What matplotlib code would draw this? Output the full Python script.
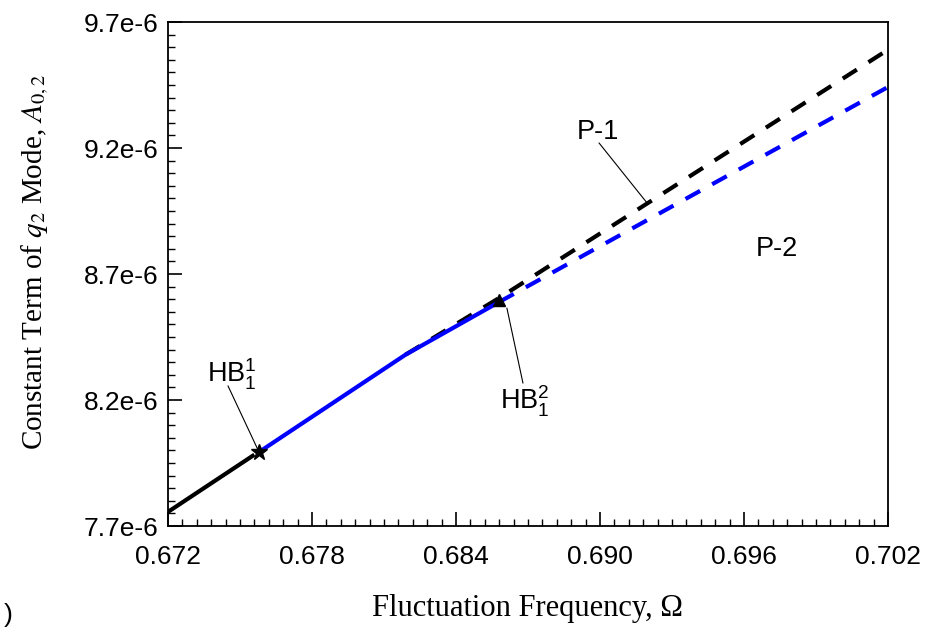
import matplotlib
matplotlib.use("Agg")
import matplotlib.pyplot as plt
from matplotlib.ticker import MultipleLocator, FixedLocator

plt.rcParams["mathtext.fontset"] = "stix"

# Data (Omega, A_{0,2})
black_solid_x = [0.6720, 0.6756]
black_solid_y = [7.756e-6, 7.983e-6]
blue_solid_x = [0.6758, 0.6819, 0.6858]
blue_solid_y = [7.994e-6, 8.380e-6, 8.589e-6]
black_dash_x = [0.6819, 0.6858, 0.7020]
black_dash_y = [8.380e-6, 8.605e-6, 9.590e-6]
blue_dash_x = [0.6858, 0.7020]
blue_dash_y = [8.589e-6, 9.442e-6]
hb1 = (0.6758, 7.994e-6)
hb2 = (0.6858, 8.595e-6)

xticks = [0.672, 0.678, 0.684, 0.690, 0.696, 0.702]
xticklabels = ["0.672", "0.678", "0.684", "0.690", "0.696", "0.702"]
yticks = [7.7e-6, 8.2e-6, 8.7e-6, 9.2e-6, 9.7e-6]
yticklabels = ["7.7e-6", "8.2e-6", "8.7e-6", "9.2e-6", "9.7e-6"]

fig = plt.figure(figsize=(9.31, 6.3), dpi=100)
ax = fig.add_axes([168/931, 1-526/630, 720/931, 504/630])

ax.plot(black_solid_x, black_solid_y, color="black", lw=3, solid_capstyle="butt")
ax.plot(black_dash_x, black_dash_y, color="black", lw=3, dashes=(4, 3.3))
ax.plot(blue_dash_x, blue_dash_y, color="#0000ff", lw=3, dashes=(4, 3.3))
ax.plot(blue_solid_x, blue_solid_y, color="#0000ff", lw=3, solid_capstyle="butt")
ax.plot([hb1[0]], [hb1[1]], marker="*", color="black", ms=12, zorder=5)
ax.plot([hb2[0]], [hb2[1]], marker="^", color="black", ms=9, zorder=5)

ax.set_xlim(0.672, 0.702)
ax.set_ylim(7.7e-6, 9.7e-6)
ax.xaxis.set_major_locator(FixedLocator(xticks))
ax.set_xticklabels(xticklabels)
ax.xaxis.set_minor_locator(MultipleLocator(0.0006))
ax.yaxis.set_major_locator(FixedLocator(yticks))
ax.set_yticklabels(yticklabels)
ax.yaxis.set_minor_locator(MultipleLocator(0.05e-6))
ax.tick_params(which="both", direction="in", top=False, right=False)
ax.tick_params(which="major", length=10, width=1.2, labelsize=19)
ax.tick_params(axis="x", which="major", pad=14)
ax.tick_params(axis="y", which="major", pad=7)
ax.tick_params(which="minor", length=5, width=1)
for lab in ax.get_xticklabels() + ax.get_yticklabels():
    lab.set_fontfamily("Liberation Sans")
for s in ax.spines.values():
    s.set_linewidth(1.3)

serif = "Liberation Serif"
ax.set_xlabel("Fluctuation Frequency, Ω", fontsize=22, fontfamily=serif)
ax.set_ylabel(r"Constant Term of $q_2$ Mode, $A_{0,2}$", fontsize=21, fontfamily=serif)
ax.xaxis.set_label_coords(0.5, -0.135)
ax.yaxis.set_label_coords(-0.163, 0.524)

sans = "Liberation Sans"
fs = 19.5
line_kw = dict(arrowstyle="-", color="black", lw=0.8, shrinkA=0, shrinkB=0)
# P-1
ax.text(0.68992, 9.263e-6, "P-1", fontsize=fs, fontfamily=sans, ha="center", va="center")
ax.annotate("", xy=(0.69196, 8.982e-6), xytext=(0.68996, 9.220e-6), arrowprops=line_kw)
# P-2
ax.text(0.69737, 8.799e-6, "P-2", fontsize=fs, fontfamily=sans, ha="center", va="center")
# HB1
ax.text(0.67467, 8.30e-6, r"HB$\mathregular{_1^1}$", fontsize=fs, fontfamily=sans,
        ha="center", va="center")
ax.annotate("", xy=(0.67575, 8.002e-6), xytext=(0.6745, 8.256e-6), arrowprops=line_kw)
# HB2
ax.text(0.68688, 8.195e-6, r"HB$\mathregular{_1^2}$", fontsize=fs, fontfamily=sans,
        ha="center", va="center")
ax.annotate("", xy=(0.68612, 8.565e-6), xytext=(0.68679, 8.267e-6), arrowprops=line_kw)

fig.text(0.004, 0.004, ")", fontsize=19, fontfamily=sans, ha="left", va="bottom")

fig.savefig("out.png", dpi=100)
